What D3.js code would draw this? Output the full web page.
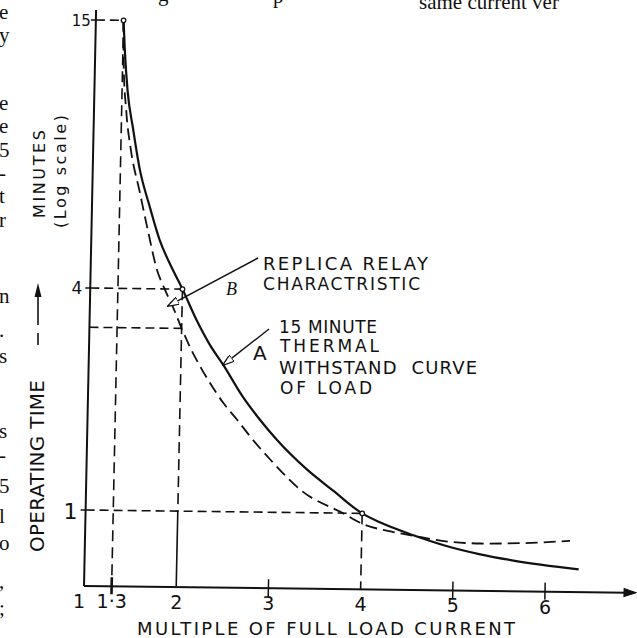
<!DOCTYPE html>
<html><head><meta charset="utf-8">
<script src="https://cdn.jsdelivr.net/npm/d3@7"></script>
<style>
html,body{margin:0;padding:0;background:#fff;}
svg{display:block;}
</style></head><body>
<svg id="chart" width="637" height="638"></svg>
<script>
// Thermal withstand curve of the load (solid, A): current as multiple of full load vs minutes
const thermalCurrent = [1.3, 1.32, 1.36, 1.43, 1.51, 1.62, 1.74, 1.88, 2.0, 2.16, 2.31, 2.46, 2.68, 2.87, 3.06, 3.39, 3.68, 4.0, 4.2, 4.56, 4.92, 5.29, 5.65, 6.36];
const thermalMinutes = [15, 13.0, 10.6, 8.75, 7.2, 6.05, 5.1, 4.44, 4.0, 3.3, 2.83, 2.5, 2.05, 1.78, 1.57, 1.31, 1.15, 1.0, 0.945, 0.875, 0.82, 0.78, 0.752, 0.715];
// Replica relay characteristic (dashed, B)
const relayCurrent = [1.3, 1.31, 1.35, 1.41, 1.51, 1.61, 1.72, 1.81, 1.9, 2.0, 2.1, 2.21, 2.32, 2.47, 2.62, 2.77, 2.99, 3.35, 3.79, 4.01, 4.31, 4.56, 4.96, 5.29, 5.57, 5.9, 6.26];
const relayMinutes = [15, 12.3, 9.6, 7.9, 6.5, 5.35, 4.39, 3.98, 3.58, 3.13, 2.77, 2.47, 2.23, 1.97, 1.78, 1.6, 1.39, 1.14, 1.0, 0.935, 0.895, 0.872, 0.842, 0.835, 0.837, 0.843, 0.855];

const xTicks = [1, 1.3, 2, 3, 4, 5, 6];
const xTickLabels = ["1", "1·3", "2", "3", "4", "5", "6"];
const xTickMarks = [1.3, 3, 5, 6];
const yTicks = [15, 4, 1];
const yTickLabels = ["15", "4", "1"];
const yFloor = 0.62;

// fragments of the surrounding book page
const marginText = ["e", "y", "e", "e", "5", "-", "t", "r", "n", ".", "s", "s", "-", "5", "l", "o", ",", ";"];
const marginBaselines = [19, 42, 110, 133, 157, 180, 203, 227, 303, 337, 363, 438, 462, 493, 523, 550, 588, 615];
const topText = ["g", "p", "same current ver"];
const topTextX = [158, 273, 419];
const topTextBaseline = [1, 3, 9];

const svg = d3.select("#chart");
const FONT = "'DejaVu Sans', sans-serif";
const INK = "#111";

const x = d3.scaleLinear().domain([1, 6]).range([84, 545]);
// minutes on a (hand-drawn) log axis, piecewise through the labelled levels
const y = d3.scaleLog().domain([yFloor, 1, 4, 15]).range([586, 510, 288, 20]);

// the drawn axes lean slightly; same lean applied to the plotted lines
const kx = 0.021, ky = 0.0122;
const ox = x(1), oy = y(yFloor);
const P = (a, b) => { const X = x(a), Y = y(b); return [X + (oy - Y) * kx, Y + (X - ox) * ky]; };

const plot = svg.append("g")
  .attr("transform", `translate(${ox},${oy}) matrix(1,${ky},${-kx},1,0,0) translate(${-ox},${-oy})`)
  .attr("fill", "none").attr("stroke", INK);

// axes
plot.append("line").attr("x1", ox).attr("y1", oy).attr("x2", ox).attr("y2", y(15) - 10).attr("stroke-width", 2);
const axisEnd = 628;
plot.append("line").attr("x1", ox).attr("y1", oy).attr("x2", axisEnd).attr("y2", oy).attr("stroke-width", 2);
plot.append("path")
  .attr("d", `M${axisEnd - 4},${oy - 4} L${axisEnd + 8},${oy} L${axisEnd - 4},${oy + 4} Z`)
  .attr("fill", INK).attr("stroke-width", 1);

plot.selectAll(".ytick").data(yTicks).join("line")
  .attr("x1", ox - 5).attr("x2", ox).attr("y1", d => y(d)).attr("y2", d => y(d)).attr("stroke-width", 1.5);
plot.selectAll(".xtick").data(xTickMarks).join("line")
  .attr("x1", d => x(d)).attr("x2", d => x(d)).attr("y1", oy - 9).attr("y2", oy + 8)
  .attr("stroke-width", d => d === 1.3 ? 2.6 : 1.5);

// construction lines
const atThermal = c => thermalMinutes[thermalCurrent.indexOf(c)];
const atRelay = c => relayMinutes[relayCurrent.indexOf(c)];
const hGuides = [[15, 1.3], [atThermal(2.0), 2.0], [atRelay(2.0), 2.0], [atThermal(4.0), 4.0]];
const vGuides = [[1.3, 15, yFloor], [2.0, atThermal(2.0), 1], [4.0, atThermal(4.0), yFloor]];
plot.selectAll(".hg").data(hGuides).join("line")
  .attr("x1", ox).attr("x2", d => x(d[1])).attr("y1", d => y(d[0])).attr("y2", d => y(d[0]))
  .attr("stroke-width", 1.6).attr("stroke-dasharray", "9,5");
plot.selectAll(".vg").data(vGuides).join("line")
  .attr("x1", d => x(d[0])).attr("x2", d => x(d[0])).attr("y1", d => y(d[1])).attr("y2", d => y(d[2]))
  .attr("stroke-width", 1.6).attr("stroke-dasharray", "11,6");
plot.append("line").attr("x1", x(2)).attr("x2", x(2)).attr("y1", y(1)).attr("y2", oy).attr("stroke-width", 1.6);

// curves
const line = d3.line().x(d => x(d[0])).y(d => y(d[1])).curve(d3.curveMonotoneX);
plot.append("path").datum(d3.zip(thermalCurrent, thermalMinutes)).attr("d", line).attr("stroke-width", 2.2);
plot.append("path").datum(d3.zip(relayCurrent, relayMinutes)).attr("d", line)
  .attr("stroke-width", 1.8).attr("stroke-dasharray", "12,6");

plot.selectAll(".pt").data([[1.3, 15], [2.0, atThermal(2.0)], [4.0, atThermal(4.0)]]).join("circle")
  .attr("cx", d => x(d[0])).attr("cy", d => y(d[1])).attr("r", 2.3).attr("fill", "#fff").attr("stroke-width", 1.3);

// text layer
const txt = svg.append("g").attr("fill", INK).attr("font-family", FONT);

txt.selectAll(".xl").data(xTicks).join("text")
  .attr("x", (d, i) => P(d, yFloor)[0] + (i === 0 ? -5 : 0))
  .attr("y", d => P(d, yFloor)[1] + 22)
  .attr("text-anchor", "middle").attr("font-size", 19)
  .text((d, i) => xTickLabels[i]);

txt.selectAll(".yl").data(yTicks).join("text")
  .attr("x", d => P(1, d)[0] - (d === 15 ? 5 : 8))
  .attr("y", d => P(1, d)[1] + (d === 1 ? 9 : 6))
  .attr("text-anchor", "end").attr("font-size", (d) => d === 1 ? 22 : (d === 15 ? 15 : 17))
  .text((d, i) => yTickLabels[i]);

txt.append("text").attr("x", 137).attr("y", 635).attr("font-size", 18)
  .attr("textLength", 378).attr("lengthAdjust", "spacing").text("MULTIPLE OF FULL LOAD CURRENT");

txt.append("text").attr("transform", "translate(44,552) rotate(-90)").attr("font-size", 20)
  .attr("textLength", 172).attr("lengthAdjust", "spacing").text("OPERATING TIME");
txt.append("text").attr("transform", "translate(45,218) rotate(-90)").attr("font-size", 16)
  .attr("textLength", 88).attr("lengthAdjust", "spacing").text("MINUTES");
txt.append("text").attr("transform", "translate(66,228) rotate(-90)").attr("font-size", 16)
  .attr("textLength", 113).attr("lengthAdjust", "spacing").text("(Log scale)");

// operating-time arrow beside the axis title
svg.append("line").attr("x1", 38).attr("x2", 38).attr("y1", 333).attr("y2", 345).attr("stroke", INK).attr("stroke-width", 1.6);
svg.append("line").attr("x1", 38).attr("x2", 38).attr("y1", 325).attr("y2", 292).attr("stroke", INK).attr("stroke-width", 1.6);
svg.append("path").attr("d", "M38,283 L41.5,297 L34.5,297 Z").attr("fill", INK);

const labelLines = [
  ["REPLICA RELAY", 263, 270, 165, 18],
  ["CHARACTRISTIC", 263, 290, 157, 17],
  ["15 MINUTE", 279, 333, 98, 17],
  ["THERMAL", 280, 352, 99, 17],
  ["WITHSTAND  CURVE", 279, 374, 198, 18],
  ["OF LOAD", 280, 394, 92, 17]
];
txt.selectAll(".lab").data(labelLines).join("text")
  .attr("x", d => d[1]).attr("y", d => d[2]).attr("font-size", d => d[4])
  .attr("textLength", d => d[3]).attr("lengthAdjust", "spacing").attr("xml:space", "preserve")
  .text(d => d[0]);

txt.append("text").attr("x", 226).attr("y", 295).attr("font-family", "'Liberation Serif', serif")
  .attr("font-style", "italic").attr("font-size", 18).text("B");
txt.append("text").attr("x", 253).attr("y", 360).attr("font-size", 20).text("A");

// leader arrows
const defs = svg.append("defs");
defs.append("marker").attr("id", "head").attr("viewBox", "0 0 12 8").attr("refX", 11).attr("refY", 4)
  .attr("markerWidth", 12).attr("markerHeight", 8).attr("markerUnits", "userSpaceOnUse").attr("orient", "auto")
  .append("path").attr("d", "M0,0 L12,4 L0,8 Z").attr("fill", "#fff").attr("stroke", INK).attr("stroke-width", 1.3);
const tipB = P(1.85, 3.6), tipA = P(2.46, atThermal(2.46));
svg.append("line").attr("x1", 258).attr("y1", 258).attr("x2", tipB[0]).attr("y2", tipB[1])
  .attr("stroke", INK).attr("stroke-width", 1.5).attr("marker-end", "url(#head)");
svg.append("line").attr("x1", 269).attr("y1", 329).attr("x2", tipA[0]).attr("y2", tipA[1])
  .attr("stroke", INK).attr("stroke-width", 1.4).attr("marker-end", "url(#head)");

// page text around the figure
const pageText = svg.append("g").attr("fill", INK).attr("font-family", "'Liberation Serif', serif").attr("font-size", 21);
pageText.selectAll(".m").data(marginText).join("text")
  .attr("x", -1).attr("y", (d, i) => marginBaselines[i]).text(d => d);
pageText.selectAll(".t").data(topText).join("text")
  .attr("x", (d, i) => topTextX[i]).attr("y", (d, i) => topTextBaseline[i]).text(d => d);
</script>
</body></html>
